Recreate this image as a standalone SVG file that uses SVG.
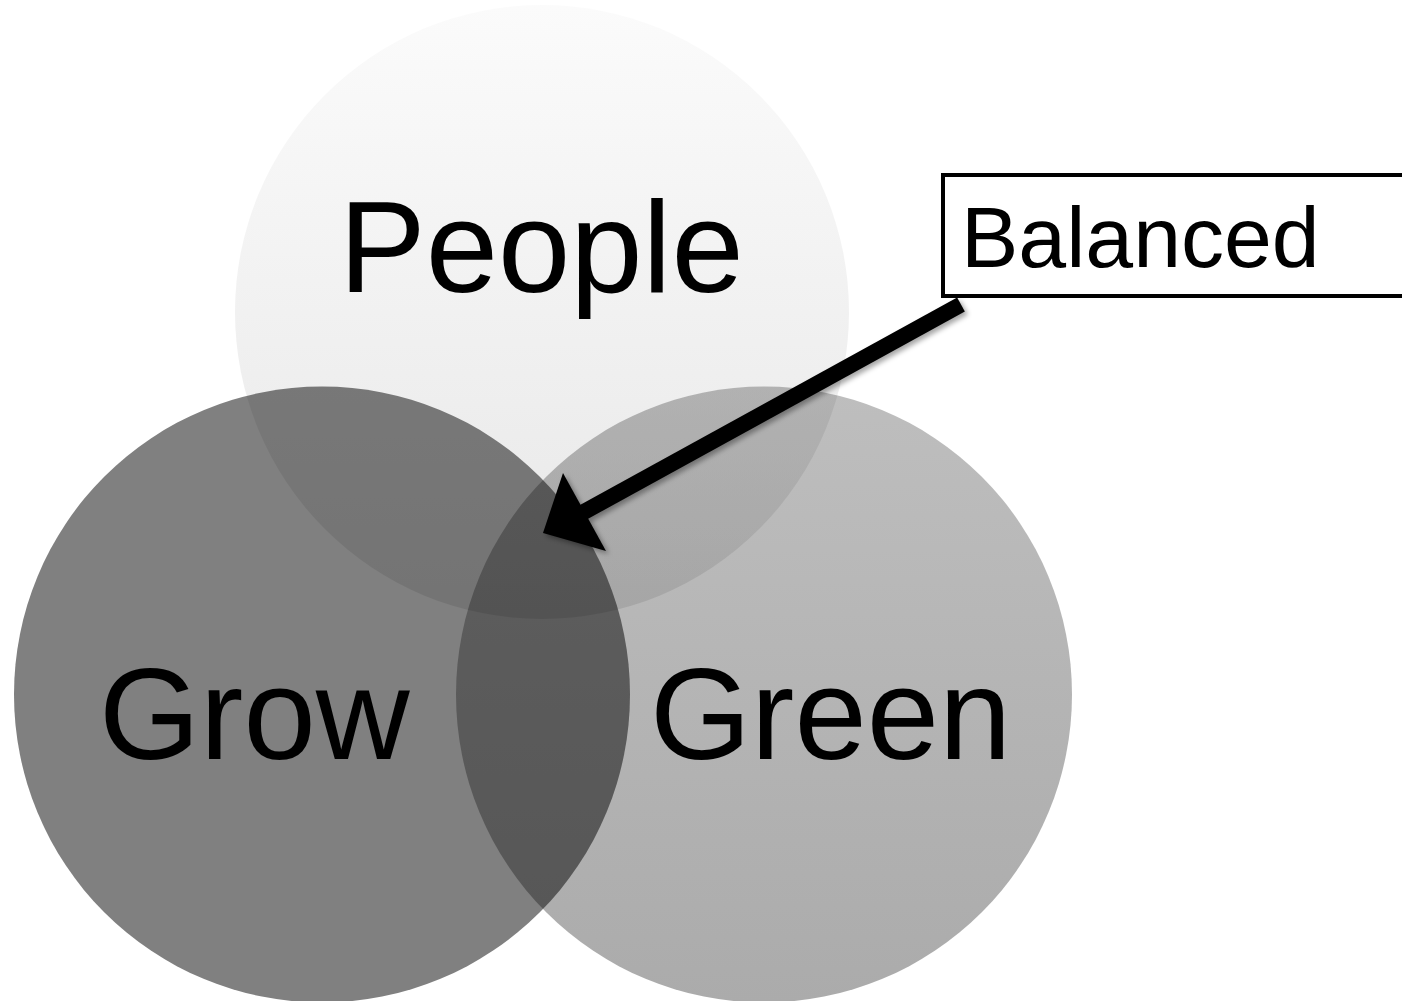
<svg xmlns="http://www.w3.org/2000/svg" width="1402" height="1001" viewBox="0 0 1402 1001">
<style>
.lbl{font-family:"Liberation Sans",Arial,sans-serif;fill:#000}
.big{font-size:130px}
.circ{mix-blend-mode:multiply}
</style>
<defs>
<linearGradient id="gPeople" x1="0" y1="0" x2="0" y2="1">
<stop offset="0" stop-color="#fbfbfb"/>
<stop offset="1" stop-color="#e7e7e7"/>
</linearGradient>
<linearGradient id="gGreen" x1="0" y1="0" x2="0" y2="1">
<stop offset="0" stop-color="#bebebe"/>
<stop offset="1" stop-color="#ababab"/>
</linearGradient>
<filter id="shadow" x="-10%" y="-10%" width="130%" height="130%">
<feDropShadow dx="3" dy="3" stdDeviation="2.5" flood-color="#000" flood-opacity="0.35"/>
</filter>
</defs>
<rect x="0" y="0" width="1402" height="1001" fill="#fff"/>
<g id="people">
<circle class="circ" cx="542" cy="312" r="307" fill="url(#gPeople)"/>
</g>
<g id="grow">
<circle class="circ" cx="322" cy="694.5" r="308" fill="#808080"/>
</g>
<g id="green">
<circle class="circ" cx="764" cy="694.5" r="308" fill="url(#gGreen)"/>
</g>
<text class="lbl big" x="339" y="292">People</text>
<text class="lbl big" x="99" y="759">Grow</text>
<text class="lbl big" x="650" y="759">Green</text>
<g id="connectors" filter="url(#shadow)">
<line x1="961" y1="304.5" x2="582" y2="513" stroke="#000" stroke-width="16"/>
<polygon points="543,533 563,473 606,551" fill="#000"/>
</g>
<g id="balanced">
<rect x="943" y="175" width="480" height="121" fill="#fff" stroke="#000" stroke-width="4"/>
<text class="lbl" x="961" y="267" font-size="86">Balanced</text>
</g>
</svg>
